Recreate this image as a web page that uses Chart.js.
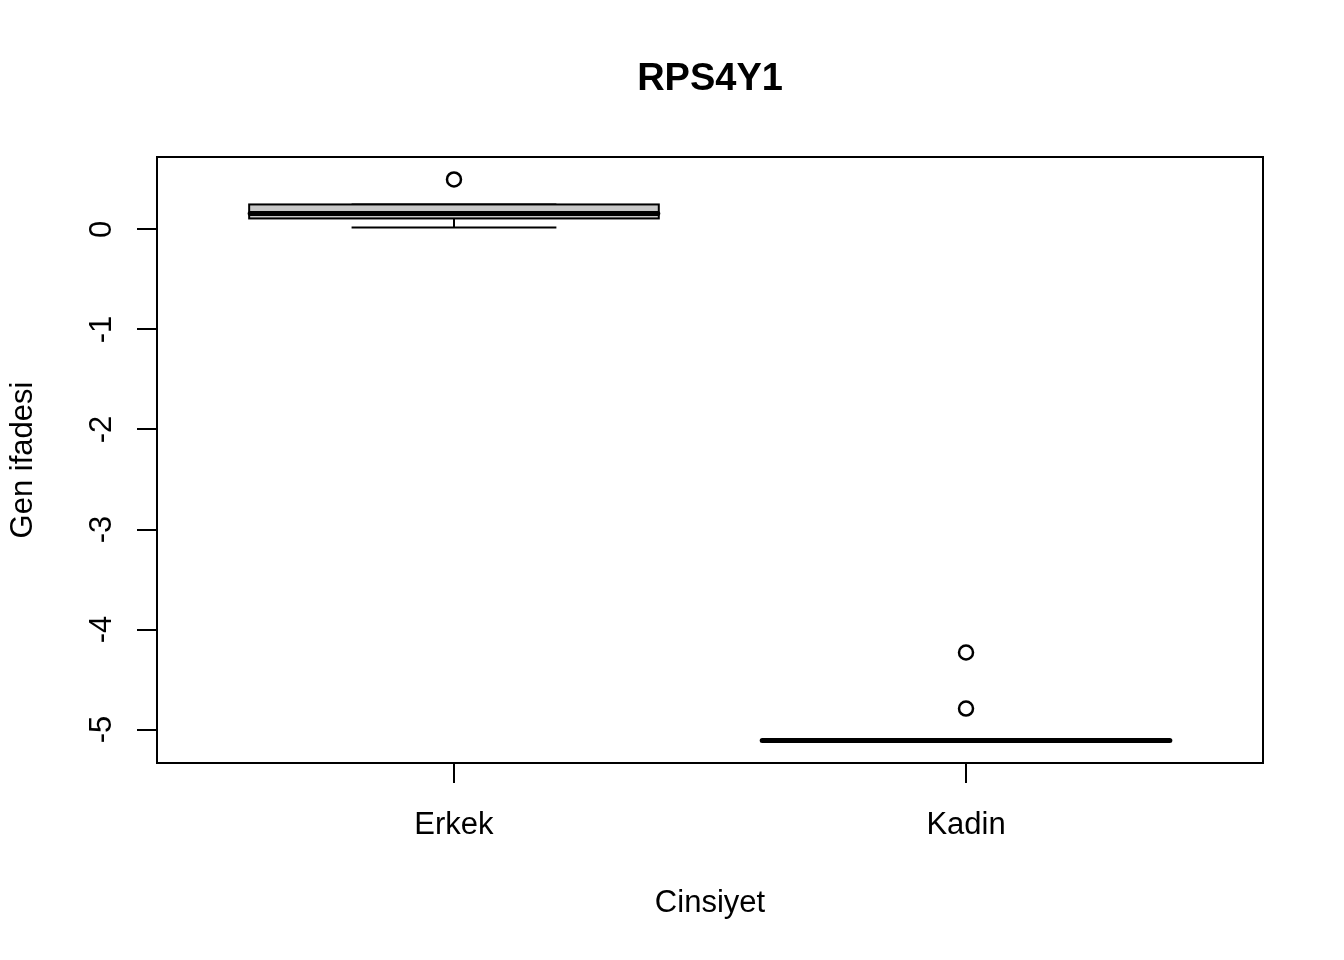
<!DOCTYPE html>
<html>
<head>
<meta charset="utf-8">
<script src="https://cdn.jsdelivr.net/npm/chart.js@4"></script>
<style>
  html, body { margin: 0; padding: 0; background: #fff; }
  canvas { display: block; }
</style>
</head>
<body>
<canvas id="chart" width="1344" height="960"></canvas>
<script>
// boxplot data
const chartTitle = 'RPS4Y1';
const xTitle = 'Cinsiyet';
const yTitle = 'Gen ifadesi';
const categories = ['Erkek', 'Kadin'];
const whiskerLow = [0.02, -5.11];
const q1 = [0.11, -5.11];
const median = [0.16, -5.11];
const q3 = [0.25, -5.11];
const whiskerHigh = [0.25, -5.11];
const outliers = [[0.5], [-4.23, -4.79]];
const yTicks = [-5, -4, -3, -2, -1, 0];

const FONT = '"Liberation Sans", Arial, Helvetica, sans-serif';

// R style limits: range plus 4% on each side
const allVals = whiskerLow.concat(whiskerHigh, outliers.flat());
const dMin = Math.min(...allVals);
const dMax = Math.max(...allVals);
const yPad = (dMax - dMin) * 0.04;
const xPad = categories.length * 0.04;

const outlierPoints = [];
outliers.forEach((arr, i) => {
    arr.forEach(v => outlierPoints.push({ x: i + 1, y: v }));
});

function line(ctx, x1, y1, x2, y2) {
    ctx.beginPath();
    ctx.moveTo(x1, y1);
    ctx.lineTo(x2, y2);
    ctx.stroke();
}

// draws boxes, whiskers and medians through the scales
const boxPlugin = {
    id: 'boxes',
    beforeDatasetsDraw(chart) {
        const { ctx, scales: { x, y } } = chart;
        ctx.save();
        ctx.strokeStyle = '#000';
        ctx.lineCap = 'butt';
        categories.forEach((c, i) => {
            const cx = i + 1;
            const xm = x.getPixelForValue(cx);
            const l = x.getPixelForValue(cx - 0.4);
            const r = x.getPixelForValue(cx + 0.4);
            const cl = x.getPixelForValue(cx - 0.2);
            const cr = x.getPixelForValue(cx + 0.2);
            const yLo = y.getPixelForValue(whiskerLow[i]);
            const yHi = y.getPixelForValue(whiskerHigh[i]);
            const y1 = y.getPixelForValue(q1[i]);
            const y3 = y.getPixelForValue(q3[i]);
            const ym = y.getPixelForValue(median[i]);

            // whiskers + caps
            ctx.lineWidth = 2;
            line(ctx, xm, yLo, xm, y1);
            line(ctx, xm, y3, xm, yHi);
            line(ctx, cl, yLo, cr, yLo);
            line(ctx, cl, yHi, cr, yHi);

            // box
            ctx.fillStyle = '#c8c8c8';
            ctx.fillRect(l, y3, r - l, y1 - y3);
            ctx.strokeRect(l, y3, r - l, y1 - y3);

            // median
            ctx.lineWidth = 5;
            ctx.lineCap = 'round';
            line(ctx, l + 1, ym, r - 1, ym);
            ctx.lineCap = 'butt';
        });
        ctx.restore();
    },
    afterDraw(chart) {
        const { ctx, chartArea: a } = chart;
        ctx.save();
        // plot frame
        ctx.strokeStyle = '#000';
        ctx.lineWidth = 2;
        ctx.strokeRect(a.left, a.top, a.right - a.left, a.bottom - a.top);
        // main title
        ctx.fillStyle = '#000';
        ctx.font = 'bold 38px ' + FONT;
        ctx.textAlign = 'center';
        ctx.textBaseline = 'middle';
        ctx.fillText(chartTitle, (a.left + a.right) / 2, 80);
        ctx.restore();
    }
};

const ctx = document.getElementById('chart').getContext('2d');
const chart = new Chart(ctx, {
    type: 'scatter',
    data: {
        datasets: [{
            label: 'outliers',
            data: outlierPoints,
            pointStyle: 'circle',
            pointRadius: 7,
            pointHoverRadius: 7,
            borderColor: '#000',
            borderWidth: 2.5,
            backgroundColor: 'rgba(0,0,0,0)'
        }]
    },
    options: {
        responsive: false,
        animation: false,
        devicePixelRatio: 1,
        layout: {
            padding: { left: 0, top: 157, right: 81, bottom: 0 }
        },
        plugins: {
            legend: { display: false },
            tooltip: { enabled: false },
            title: { display: false }
        },
        scales: {
            x: {
                type: 'linear',
                min: 0.5 - xPad,
                max: categories.length + 0.5 + xPad,
                afterBuildTicks: s => { s.ticks = categories.map((c, i) => ({ value: i + 1 })); },
                afterFit: s => { s.height = 197; },
                border: { display: false },
                grid: {
                    drawOnChartArea: false,
                    tickLength: 20,
                    color: '#000',
                    lineWidth: 2
                },
                ticks: {
                    autoSkip: false,
                    maxRotation: 0,
                    padding: 24,
                    color: '#000',
                    font: { family: FONT, size: 31 },
                    callback: v => categories[v - 1]
                },
                title: {
                    display: true,
                    text: xTitle,
                    color: '#000',
                    font: { family: FONT, size: 31 },
                    padding: { top: 0, bottom: 38 }
                }
            },
            y: {
                type: 'linear',
                min: dMin - yPad,
                max: dMax + yPad,
                afterBuildTicks: s => { s.ticks = yTicks.map(v => ({ value: v })); },
                afterFit: s => { s.width = 157; },
                border: { display: false },
                grid: {
                    drawOnChartArea: false,
                    tickLength: 20,
                    color: '#000',
                    lineWidth: 2
                },
                ticks: {
                    autoSkip: false,
                    minRotation: 90,
                    maxRotation: 90,
                    crossAlign: 'center',
                    padding: 21,
                    color: '#000',
                    font: { family: FONT, size: 31 }
                },
                title: {
                    display: true,
                    text: yTitle,
                    color: '#000',
                    font: { family: FONT, size: 31 },
                    padding: { top: 5, bottom: 0 }
                }
            }
        }
    },
    plugins: [boxPlugin]
});
</script>
</body>
</html>
